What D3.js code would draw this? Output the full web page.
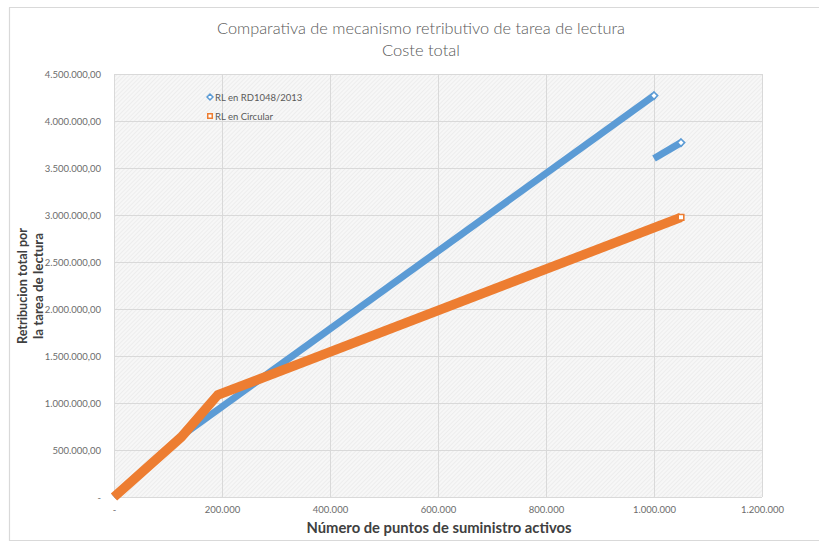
<!DOCTYPE html>
<html>
<head>
<meta charset="utf-8">
<script src="https://cdn.jsdelivr.net/npm/d3@7"></script>
<style>
  html, body { margin: 0; padding: 0; background: #fff; }
  svg { display: block; }
</style>
</head>
<body>
<svg id="chart" width="819" height="545"></svg>
<script>
// Títulos
const titleLines = ["Comparativa de mecanismo retributivo de tarea de lectura", "Coste total"];
const xTitle = "Número de puntos de suministro activos";
const yTitleLines = ["Retribucion total por", "la tarea de lectura"];

// Marcas de los ejes
const xTicks = [0, 200000, 400000, 600000, 800000, 1000000, 1200000];
const yTicks = [0, 500000, 1000000, 1500000, 2000000, 2500000, 3000000, 3500000, 4000000, 4500000];

// Serie "RL en RD1048/2013" (dos tramos)
const rdName = "RL en RD1048/2013";
const rdX1 = [0, 125000, 1000000];
const rdY1 = [0, 650000, 4270000];
const rdX2 = [1000000, 1050000];
const rdY2 = [3600000, 3770000];

// Serie "RL en Circular"
const circName = "RL en Circular";
const circX = [0, 125000, 192000, 1050000];
const circY = [0, 640000, 1085000, 2975000];

const blue = "#5b9bd5";
const orange = "#ed7d31";

const es = d3.formatLocale({ decimal: ",", thousands: ".", grouping: [3], currency: ["", " €"] });
const fmtX = v => v === 0 ? "-" : es.format(",.0f")(v);
const fmtY = v => v === 0 ? "-" : es.format(",.2f")(v);

const svg = d3.select("#chart");
const W = 819, H = 545;
const plot = { left: 114, right: 762, top: 74, bottom: 497 };

// Marco exterior del gráfico
svg.append("rect").attr("width", W).attr("height", H).attr("fill", "#fff");
const frame = svg.append("g").attr("stroke", "#d9d9d9").attr("stroke-width", 1.2).attr("fill", "none");
frame.append("line").attr("x1", 9).attr("x2", W).attr("y1", 7.5).attr("y2", 7.5);
frame.append("line").attr("x1", 9.5).attr("x2", 9.5).attr("y1", 7.5).attr("y2", 541);
frame.append("line").attr("x1", 9).attr("x2", W).attr("y1", 540.5).attr("y2", 540.5);

// Trama diagonal del área de trazado
const defs = svg.append("defs");
const pat = defs.append("pattern")
  .attr("id", "hatch").attr("patternUnits", "userSpaceOnUse")
  .attr("width", 3).attr("height", 3)
  .attr("patternTransform", "rotate(45)");
pat.append("rect").attr("width", 3).attr("height", 3).attr("fill", "#f7f7f7");
pat.append("line").attr("x1", 0).attr("x2", 0).attr("y1", 0).attr("y2", 3)
  .attr("stroke", "#e3e3e3").attr("stroke-width", 1);

const x = d3.scaleLinear().domain([0, 1200000]).range([plot.left, plot.right]);
const y = d3.scaleLinear().domain([0, 4500000]).range([plot.bottom, plot.top]);

svg.append("rect")
  .attr("x", plot.left).attr("y", plot.top)
  .attr("width", plot.right - plot.left).attr("height", plot.bottom - plot.top)
  .attr("fill", "url(#hatch)");

// Rejilla
const grid = svg.append("g").attr("stroke", "#d9d9d9").attr("stroke-width", 1);
grid.selectAll("line.h").data(yTicks).join("line")
  .attr("x1", plot.left).attr("x2", plot.right)
  .attr("y1", d => Math.round(y(d)) + 0.5).attr("y2", d => Math.round(y(d)) + 0.5);
grid.selectAll("line.v").data(xTicks).join("line")
  .attr("y1", plot.top).attr("y2", plot.bottom)
  .attr("x1", d => Math.round(x(d)) + 0.5).attr("x2", d => Math.round(x(d)) + 0.5);

// Ejes
const xAxis = d3.axisBottom(x).tickValues(xTicks).tickFormat(fmtX).tickSize(0).tickPadding(9);
const yAxis = d3.axisLeft(y).tickValues(yTicks).tickFormat(fmtY).tickSize(0).tickPadding(13);

const gx = svg.append("g").attr("transform", `translate(0,${plot.bottom})`).call(xAxis);
const gy = svg.append("g").attr("transform", `translate(${plot.left},0)`).call(yAxis);
[gx, gy].forEach(g => {
  g.select(".domain").remove();
  g.selectAll("text")
    .attr("font-family", "Lato, 'Open Sans', sans-serif")
    .attr("font-size", 9.5)
    .attr("fill", "#6b6b6b");
});

// Líneas
const line = d3.line().x(d => x(d[0])).y(d => y(d[1]));
const zip = (a, b) => a.map((v, i) => [v, b[i]]);

const series = [
  { pts: zip(rdX1, rdY1), color: blue, w: 7 },
  { pts: zip(rdX2, rdY2), color: blue, w: 7 },
  { pts: zip(circX, circY), color: orange, w: 9.5 }
];
svg.append("g").selectAll("path").data(series).join("path")
  .attr("d", d => line(d.pts))
  .attr("fill", "none")
  .attr("stroke", d => d.color)
  .attr("stroke-width", d => d.w)
  .attr("stroke-linejoin", "round")
  .attr("stroke-linecap", "butt");

// Marcadores en los extremos de cada tramo
const diamond = d3.symbol().type(d3.symbolDiamond2).size(34);
const square = d3.symbol().type(d3.symbolSquare2).size(40);
const blueEnds = [series[0].pts[series[0].pts.length - 1], series[1].pts[series[1].pts.length - 1]];
svg.append("g").selectAll("path").data(blueEnds).join("path")
  .attr("transform", d => `translate(${x(d[0])},${y(d[1])})`)
  .attr("d", diamond)
  .attr("fill", "#fff").attr("stroke", blue).attr("stroke-width", 1.6);
const orangeEnd = series[2].pts[series[2].pts.length - 1];
svg.append("path")
  .attr("transform", `translate(${x(orangeEnd[0])},${y(orangeEnd[1])})`)
  .attr("d", square)
  .attr("fill", "#fff").attr("stroke", orange).attr("stroke-width", 1.6);

// Leyenda
const legend = [
  { name: rdName, color: blue, sym: d3.symbol().type(d3.symbolDiamond2).size(22) },
  { name: circName, color: orange, sym: d3.symbol().type(d3.symbolSquare2).size(26) }
];
const lg = svg.append("g").attr("transform", "translate(210,97)");
legend.forEach((d, i) => {
  const row = lg.append("g").attr("transform", `translate(0,${i * 19})`);
  row.append("path").attr("d", d.sym)
    .attr("fill", "#fff").attr("stroke", d.color).attr("stroke-width", 1.5);
  row.append("text").attr("x", 5).attr("y", 3.5)
    .attr("font-family", "Lato, 'Open Sans', sans-serif")
    .attr("font-size", 9.5).attr("fill", "#595959")
    .text(d.name);
});

// Título
const tg = svg.append("g").attr("font-family", "Lato, 'Open Sans', sans-serif")
  .attr("font-weight", 300).attr("fill", "#595959").attr("text-anchor", "middle");
tg.append("text").attr("x", 421).attr("y", 34).attr("font-size", 16.5)
  .attr("textLength", 408).attr("lengthAdjust", "spacingAndGlyphs")
  .text(titleLines[0]);
tg.append("text").attr("x", 421).attr("y", 56).attr("font-size", 16.5)
  .text(titleLines[1]);

// Títulos de los ejes
svg.append("text")
  .attr("x", (plot.left + plot.right) / 2 + 1).attr("y", 533)
  .attr("text-anchor", "middle")
  .attr("font-family", "Lato, 'Open Sans', sans-serif")
  .attr("font-weight", 700).attr("font-size", 14.5).attr("fill", "#404040")
  .attr("textLength", 265).attr("lengthAdjust", "spacingAndGlyphs")
  .text(xTitle);

const yt = svg.append("g").attr("transform", "translate(0,286) rotate(-90)")
  .attr("font-family", "Lato, 'Open Sans', sans-serif")
  .attr("font-weight", 700).attr("font-size", 12.5).attr("fill", "#404040")
  .attr("text-anchor", "middle");
yt.append("text").attr("x", 0).attr("y", 27)
  .attr("textLength", 116).attr("lengthAdjust", "spacingAndGlyphs").text(yTitleLines[0]);
yt.append("text").attr("x", 0).attr("y", 43)
  .attr("textLength", 106).attr("lengthAdjust", "spacingAndGlyphs").text(yTitleLines[1]);
</script>
</body>
</html>
